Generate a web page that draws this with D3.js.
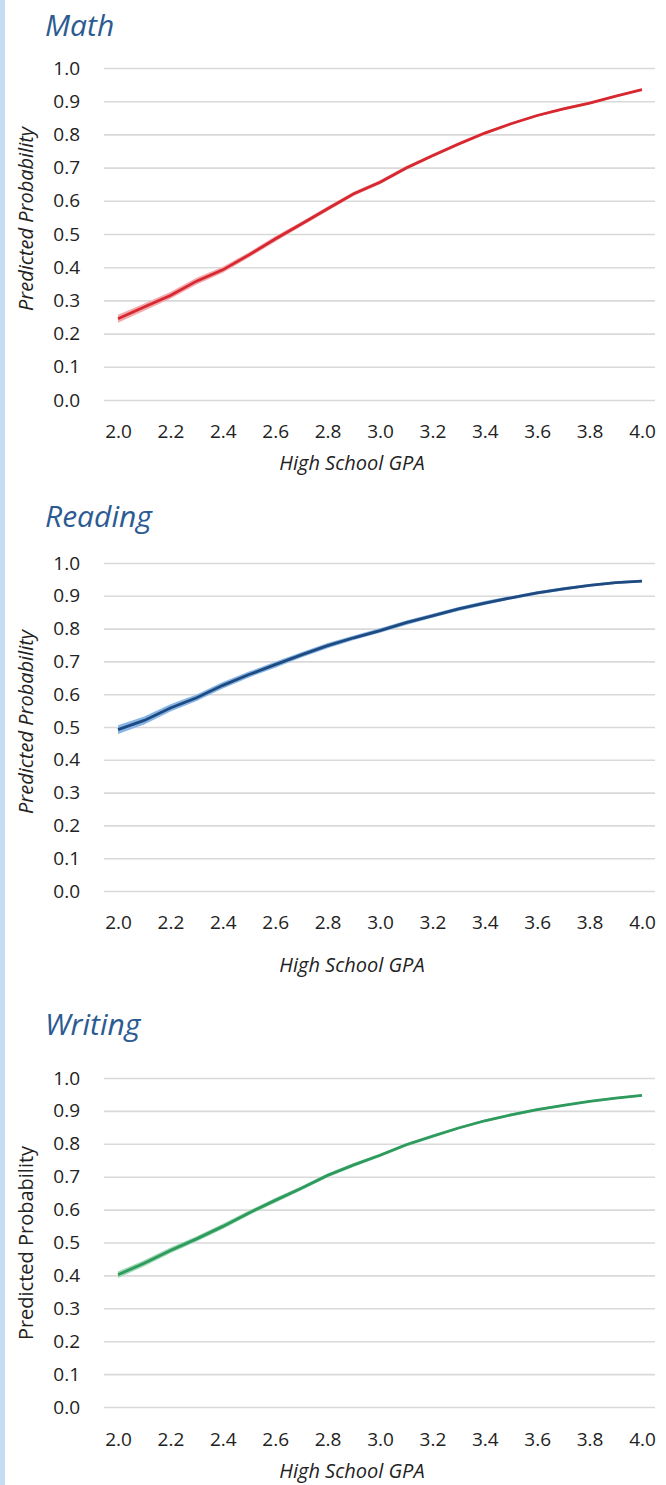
<!DOCTYPE html>
<html>
<head>
<meta charset="utf-8">
<script src="https://cdn.jsdelivr.net/npm/d3@7"></script>
<style>
  body { margin: 0; background: #fff; }
  text { font-family: "Open Sans", "Noto Sans", sans-serif; }
</style>
</head>
<body>
<div id="chart"></div>
<script>
// Data

const gpa = [2.0, 2.1, 2.2, 2.3, 2.4, 2.5, 2.6, 2.7, 2.8, 2.9, 3.0, 3.1, 3.2, 3.3, 3.4, 3.5, 3.6, 3.7, 3.8, 3.9, 4.0];
const xTicks = [2.0, 2.2, 2.4, 2.6, 2.8, 3.0, 3.2, 3.4, 3.6, 3.8, 4.0];
const yTicks = [0.0, 0.1, 0.2, 0.3, 0.4, 0.5, 0.6, 0.7, 0.8, 0.9, 1.0];

const mathProb = [0.245, 0.280, 0.315, 0.358, 0.392, 0.437, 0.485, 0.530, 0.576, 0.621, 0.656, 0.699, 0.736, 0.771, 0.804, 0.832, 0.857, 0.877, 0.894, 0.915, 0.935];
const mathCI = [0.012, 0.011, 0.010, 0.010, 0.009, 0.008, 0.008, 0.007, 0.007, 0.006, 0.006, 0.006, 0.005, 0.005, 0.005, 0.004, 0.004, 0.004, 0.004, 0.003, 0.003];

const readingProb = [0.492, 0.520, 0.558, 0.589, 0.627, 0.660, 0.690, 0.720, 0.748, 0.772, 0.794, 0.818, 0.839, 0.860, 0.878, 0.894, 0.909, 0.921, 0.932, 0.940, 0.945];
const readingCI = [0.013, 0.012, 0.011, 0.010, 0.010, 0.009, 0.009, 0.008, 0.008, 0.007, 0.007, 0.007, 0.006, 0.006, 0.006, 0.005, 0.005, 0.005, 0.004, 0.004, 0.004];

const writingProb = [0.402, 0.437, 0.476, 0.511, 0.549, 0.590, 0.628, 0.665, 0.704, 0.736, 0.765, 0.797, 0.823, 0.848, 0.870, 0.888, 0.904, 0.917, 0.929, 0.939, 0.947];
const writingCI = [0.010, 0.009, 0.009, 0.008, 0.008, 0.007, 0.007, 0.006, 0.006, 0.006, 0.005, 0.005, 0.005, 0.004, 0.004, 0.004, 0.004, 0.003, 0.003, 0.003, 0.003];

const panels = [
  { title: "Math", prob: mathProb, ci: mathCI, line: "#d7282f", band: "#f2a9ae",
    titleY: 36, top: 68, bottom: 400, tickY: 438, xTitleY: 470, yTitleY: 219, yItalic: true },
  { title: "Reading", prob: readingProb, ci: readingCI, line: "#1f4a80", band: "#86b5e6",
    titleY: 527, top: 563, bottom: 891, tickY: 929, xTitleY: 972, yTitleY: 722, yItalic: true },
  { title: "Writing", prob: writingProb, ci: writingCI, line: "#2e9a5e", band: "#9dd9b2",
    titleY: 1035, top: 1078, bottom: 1407, tickY: 1446, xTitleY: 1478, yTitleY: 1243, yItalic: false },
];

const width = 666;
const height = 1485;

const svg = d3
  .select("#chart")
  .append("svg")
  .attr("width", width)
  .attr("height", height);

// left frame bar
svg.append("rect").attr("x", 0).attr("y", 0).attr("width", 5).attr("height", height).attr("fill", "#c6dcf2");

const gridLeft = 104;
const gridRight = 655;

const xScale = d3.scaleLinear().domain([2.0, 4.0]).range([118, 642]);

panels.forEach((p) => {
  const yScale = d3.scaleLinear().domain([0, 1]).range([p.bottom, p.top]);

  svg
    .append("text")
    .attr("x", 45)
    .attr("y", p.titleY)
    .attr("font-size", 30)
    .attr("font-style", "italic")
    .attr("fill", "#2c5b93")
    .text(p.title);

  // y axis with gridlines
  const yAxis = svg
    .append("g")
    .attr("transform", `translate(${gridLeft}, 0)`)
    .call(
      d3
        .axisLeft(yScale)
        .tickValues(yTicks)
        .tickFormat(d3.format(".1f"))
        .tickSizeInner(-(gridRight - gridLeft))
        .tickSizeOuter(0)
        .tickPadding(24)
    );
  yAxis.select(".domain").remove();
  yAxis.selectAll(".tick line").attr("stroke", "#d9d9d9").attr("stroke-width", 1.6);
  yAxis.selectAll(".tick text").attr("font-size", 19).attr("fill", "#222");

  // x axis labels
  const xAxis = svg
    .append("g")
    .attr("transform", `translate(0, ${p.tickY - 13.5})`)
    .call(d3.axisBottom(xScale).tickValues(xTicks).tickFormat(d3.format(".1f")).tickSize(0).tickPadding(0));
  xAxis.select(".domain").remove();
  xAxis.selectAll(".tick text").attr("font-size", 19).attr("fill", "#222");

  const rows = gpa.map((g, i) => ({ gpa: g, prob: p.prob[i], ci: p.ci[i] }));

  const area = d3
    .area()
    .x((d) => xScale(d.gpa))
    .y0((d) => yScale(d.prob - d.ci))
    .y1((d) => yScale(d.prob + d.ci));

  svg.append("path").datum(rows).attr("fill", p.band).attr("d", area);

  const line = d3
    .line()
    .x((d) => xScale(d.gpa))
    .y((d) => yScale(d.prob));

  svg
    .append("path")
    .datum(rows)
    .attr("fill", "none")
    .attr("stroke", p.line)
    .attr("stroke-width", 2.8)
    .attr("d", line);

  svg
    .append("text")
    .attr("x", 352)
    .attr("y", p.xTitleY)
    .attr("text-anchor", "middle")
    .attr("font-size", 20)
    .attr("font-style", "italic")
    .attr("fill", "#222")
    .text("High School GPA");

  svg
    .append("text")
    .attr("transform", `translate(33, ${p.yTitleY}) rotate(-90)`)
    .attr("text-anchor", "middle")
    .attr("font-size", 20)
    .attr("font-style", p.yItalic ? "italic" : "normal")
    .attr("fill", "#222")
    .text("Predicted Probability");
});
</script>
</body>
</html>
